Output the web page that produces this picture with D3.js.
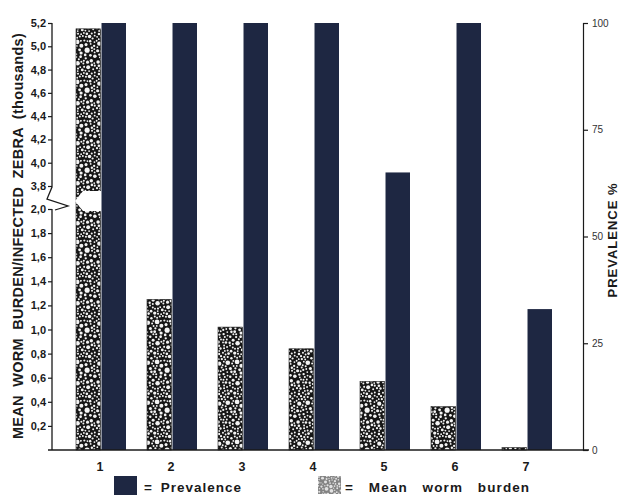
<!DOCTYPE html>
<html>
<head>
<meta charset="utf-8">
<script src="https://cdn.jsdelivr.net/npm/d3@7"></script>
<style>
  html, body { margin: 0; padding: 0; background: #fff; }
  svg { display: block; font-family: "Liberation Sans", Arial, Helvetica, sans-serif; }
</style>
</head>
<body>
<svg id="chart" width="620" height="495"></svg>
<script>
// Zebra groups along the x axis
const groups = [1, 2, 3, 4, 5, 6, 7];
// Mean worm burden per infected zebra (thousands)
const wormBurden = [5.15, 1.25, 1.02, 0.84, 0.57, 0.36, 0.02];
// Prevalence of infection (%)
const prevalence = [100, 100, 100, 100, 65, 100, 33];
// Left axis ticks (axis is broken between 2,0 and 3,8)
const burdenTicks = [0.2, 0.4, 0.6, 0.8, 1.0, 1.2, 1.4, 1.6, 1.8, 2.0,
                     3.8, 4.0, 4.2, 4.4, 4.6, 4.8, 5.0, 5.2];
// Right axis ticks
const prevalenceTicks = [0, 25, 50, 75, 100];

const svg = d3.select("#chart");
const ink = "#1a1a1a";
const navy = "#1e2742";

const axisLeftX = 52, axisRightX = 583, baseY = 450;

// Broken (piecewise) scale for worm burden
const yBurden = d3.scaleLinear()
  .domain([0, 2.0, 3.8, 5.2])
  .range([baseY, 209, 186, 23]);
const yPrev = d3.scaleLinear().domain([0, 100]).range([baseY, 23]);

const x = d3.scalePoint().domain(groups).range([101, 527]);
const xSub = d3.scaleBand().domain(["burden", "prev"]).range([-25, 25]).paddingInner(0.04);

// Packed-bubble texture: non-overlapping white circles on a dark ground,
// placed by dart throwing on a wrapping tile so the pattern repeats seamlessly
function makeBubblePattern(id, bg, fg, size, rMin, rMax, gap, seed) {
  let s = seed;
  const rnd = () => { s = (s * 1664525 + 1013904223) % 4294967296; return s / 4294967296; };
  const p = svg.append("defs").append("pattern")
    .attr("id", id).attr("patternUnits", "userSpaceOnUse")
    .attr("width", size).attr("height", size);
  p.append("rect").attr("width", size).attr("height", size).attr("fill", bg);
  const dots = [];
  for (let k = 0; k < 8000; k++) {
    const c = { cx: rnd() * size, cy: rnd() * size, r: rMin + Math.pow(rnd(), 1.6) * (rMax - rMin) };
    const ok = dots.every(o => {
      let dx = Math.abs(o.cx - c.cx), dy = Math.abs(o.cy - c.cy);
      dx = Math.min(dx, size - dx); dy = Math.min(dy, size - dy);
      return Math.hypot(dx, dy) >= o.r + c.r + gap;
    });
    if (ok) dots.push(c);
  }
  // draw wrapped copies so circles crossing the tile edge stay whole
  const copies = [];
  dots.forEach(d => {
    for (const ox of [-size, 0, size]) for (const oy of [-size, 0, size]) {
      const cx = d.cx + ox, cy = d.cy + oy;
      if (cx + d.r > 0 && cx - d.r < size && cy + d.r > 0 && cy - d.r < size) copies.push({ cx, cy, r: d.r });
    }
  });
  p.selectAll("circle").data(copies).join("circle")
    .attr("cx", d => d.cx).attr("cy", d => d.cy).attr("r", d => d.r)
    .attr("fill", fg);
}
makeBubblePattern("bubbles", "#161616", "#f4f4f4", 40, 0.9, 2.8, 0.55, 7);
makeBubblePattern("bubblesLight", "#838383", "#e2e2e2", 30, 0.7, 2.0, 0.6, 11);

const rows = groups.map((g, i) => ({ g, burden: wormBurden[i], prev: prevalence[i] }));

// Worm burden bars
svg.append("g").selectAll("rect").data(rows).join("rect")
  .attr("x", d => x(d.g) + xSub("burden"))
  .attr("width", xSub.bandwidth())
  .attr("y", d => yBurden(d.burden))
  .attr("height", d => baseY - yBurden(d.burden))
  .attr("fill", "url(#bubbles)")
  .attr("stroke", "#222").attr("stroke-width", 0.6);

// Prevalence bars
svg.append("g").selectAll("rect").data(rows).join("rect")
  .attr("x", d => x(d.g) + xSub("prev"))
  .attr("width", xSub.bandwidth())
  .attr("y", d => yPrev(d.prev))
  .attr("height", d => baseY - yPrev(d.prev))
  .attr("fill", navy);

// White gap across the first burden bar where the axis is broken
{
  const bx = x(groups[0]) + xSub("burden");
  const yT = yBurden(3.8) + 5, yB = yBurden(2.0) + 2;
  svg.append("polygon")
    .attr("points", [[bx + 7, yT], [bx + xSub.bandwidth() + 0.5, yT], [bx + xSub.bandwidth() + 0.5, yB],
                     [bx + 7, yB], [bx - 1, (yT + yB) / 2]].map(p => p.join(",")).join(" "))
    .attr("fill", "#fff");
}

// Left axis: ticks and labels
const fmtComma = d => d3.format(".1f")(d).replace(".", ",");
const leftAxis = svg.append("g")
  .attr("transform", `translate(${axisLeftX},0)`)
  .call(d3.axisLeft(yBurden).tickValues(burdenTicks).tickSize(4).tickPadding(2).tickFormat(fmtComma));
leftAxis.select(".domain").remove();
leftAxis.selectAll("line").attr("stroke", ink).attr("stroke-width", 1.2);
leftAxis.selectAll("text")
  .attr("fill", ink).attr("font-size", 11).attr("font-weight", "bold");

// Left axis line with break zigzag
const y38 = yBurden(3.8), y20 = yBurden(2.0);
svg.append("path")
  .attr("d", `M${axisLeftX},${yBurden(5.2)} L${axisLeftX},${y38 + 1}
              L${axisLeftX - 5},${y38 + 13} L${axisLeftX + 16},${y20 - 3} L${axisLeftX + 3},${y20 + 1}
              M${axisLeftX},${y20} L${axisLeftX},${baseY}`)
  .attr("fill", "none").attr("stroke", ink).attr("stroke-width", 1.3);

// Right axis
const rightAxis = svg.append("g")
  .attr("transform", `translate(${axisRightX},0)`)
  .call(d3.axisRight(yPrev).tickValues(prevalenceTicks).tickSize(5).tickPadding(4));
rightAxis.select(".domain").attr("stroke", ink).attr("stroke-width", 1.2);
rightAxis.selectAll("line").attr("stroke", ink).attr("stroke-width", 1.2);
rightAxis.selectAll("text")
  .attr("fill", "#333").attr("font-size", 10).attr("font-weight", "normal");

// Baseline
svg.append("line")
  .attr("x1", axisLeftX - 4).attr("x2", axisRightX + 6)
  .attr("y1", baseY).attr("y2", baseY)
  .attr("stroke", ink).attr("stroke-width", 1.5);

// Category labels
svg.append("g").selectAll("text").data(groups).join("text")
  .attr("x", d => x(d) - 1).attr("y", 471)
  .attr("text-anchor", "middle")
  .attr("font-size", 12.5).attr("font-weight", "bold").attr("fill", ink)
  .text(d => d);

// Axis titles
svg.append("text")
  .attr("transform", "translate(23,236) rotate(-90)")
  .attr("text-anchor", "middle")
  .attr("font-size", 14.5).attr("font-weight", "bold").attr("fill", ink)
  .attr("letter-spacing", 0.3).attr("word-spacing", 4)
  .text("MEAN WORM BURDEN/INFECTED ZEBRA (thousands)");

svg.append("text")
  .attr("transform", "translate(617,240) rotate(-90)")
  .attr("text-anchor", "middle")
  .attr("font-size", 13).attr("font-weight", "bold").attr("fill", ink)
  .attr("letter-spacing", 1)
  .text("PREVALENCE %");

// Legend
const legend = svg.append("g");
legend.append("rect").attr("x", 114).attr("y", 476).attr("width", 23).attr("height", 20).attr("fill", navy);
legend.append("text").attr("x", 144).attr("y", 492)
  .attr("font-size", 13.5).attr("font-weight", "bold").attr("fill", ink)
  .attr("letter-spacing", 1).attr("word-spacing", 3)
  .text("= Prevalence");
legend.append("rect").attr("x", 318).attr("y", 476).attr("width", 23).attr("height", 18).attr("fill", "url(#bubblesLight)");
legend.append("text").attr("x", 345).attr("y", 492)
  .attr("font-size", 13.5).attr("font-weight", "bold").attr("fill", ink)
  .attr("letter-spacing", 1.1).attr("word-spacing", 10)
  .text("= Mean worm burden");
</script>
</body>
</html>
